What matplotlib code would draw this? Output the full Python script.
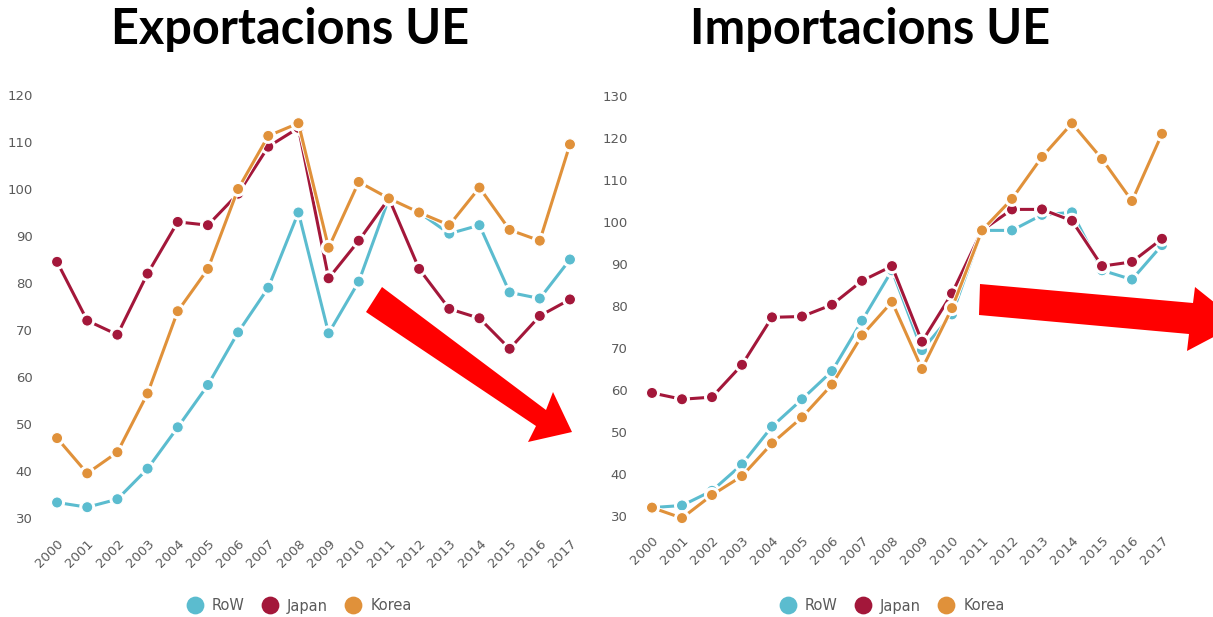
import matplotlib
matplotlib.use("Agg")
import matplotlib.pyplot as plt
import matplotlib.patheffects as pe
from matplotlib.patches import Polygon

# =========================
# Dades (índex) llegides del gràfic
# =========================
years = list(range(2000, 2018))

exp_row = [33.3, 32.3, 34.0, 40.5, 49.3, 58.3, 69.5, 79.0, 95.0, 69.3,
           80.3, 98.0, 95.0, 90.5, 92.3, 78.0, 76.7, 85.0]
exp_japan = [84.5, 72.0, 69.0, 82.0, 93.0, 92.3, 99.0, 109.0, 113.0, 81.0,
             89.0, 98.0, 83.0, 74.5, 72.5, 66.0, 73.0, 76.5]
exp_korea = [47.0, 39.5, 44.0, 56.5, 74.0, 83.0, 100.0, 111.3, 114.0, 87.5,
             101.5, 98.0, 95.0, 92.3, 100.3, 91.3, 89.0, 109.5]

imp_row = [32.0, 32.5, 36.0, 42.3, 51.3, 57.8, 64.5, 76.5, 88.5, 69.5,
           78.0, 98.0, 98.0, 101.7, 102.3, 88.5, 86.3, 94.5]
imp_japan = [59.3, 57.8, 58.3, 66.0, 77.3, 77.5, 80.3, 86.0, 89.5, 71.5,
             83.0, 98.0, 103.0, 103.0, 100.3, 89.5, 90.5, 96.0]
imp_korea = [32.0, 29.5, 35.0, 39.5, 47.3, 53.5, 61.3, 73.0, 81.0, 65.0,
             79.5, 98.0, 105.5, 115.5, 123.5, 115.0, 105.0, 121.0]

series_names = ["RoW", "Japan", "Korea"]
colors = ["#5bbccf", "#a3173a", "#e0913a"]

W, H = 1213, 617
fig = plt.figure(figsize=(W / 100, H / 100), dpi=100)


def px_axes(left, right, top, bottom):
    return fig.add_axes([left / W, 1 - bottom / H, (right - left) / W, (bottom - top) / H])


def draw_panel(ax, data, yticks, ylim, title, title_x, legend_x):
    handles = []
    for vals, name, c in zip(data, series_names, colors):
        ln, = ax.plot(years, vals, color=c, lw=2.2, marker="o", ms=8,
                      mec="white", mew=0.8, label=name,
                      path_effects=[pe.Stroke(linewidth=3.5, foreground="white"), pe.Normal()])
        handles.append(ln)
    ax.set_xlim(1999.6, 2017.2)
    ax.set_ylim(*ylim)
    ax.set_yticks(yticks)
    ax.set_xticks(years)
    ax.set_xticklabels([str(y) for y in years], rotation=45, ha="right",
                       rotation_mode="anchor")
    for s in ax.spines.values():
        s.set_visible(False)
    ax.tick_params(length=0, labelsize=9.5, labelcolor="#5a5a5a", pad=9)
    ax.tick_params(axis="x", pad=7)
    leg = fig.legend(handles, series_names, loc="center",
                     bbox_to_anchor=(legend_x / W, 1 - 606 / H), ncol=3,
                     frameon=False, handlelength=0.9, handletextpad=0.7,
                     columnspacing=1.3, fontsize=10.5, markerscale=1.6,
                     labelcolor="#5a5a5a", borderaxespad=0, borderpad=0)
    for h in leg.legend_handles:
        h.set_linestyle("none")
        h.set_path_effects([])
        h.set_markeredgewidth(0)
    fig.text(title_x / W, 1 - 30 / H, title, ha="center", va="center",
             fontsize=35, fontweight="bold", family="Lato", color="black")


ax1 = px_axes(45, 576, 85.6, 527.4)
draw_panel(ax1, [exp_row, exp_japan, exp_korea], range(30, 121, 10), (28, 122),
           "Exportacions UE", 290, 300)

ax2 = px_axes(640, 1168, 87.6, 524.4)
draw_panel(ax2, [imp_row, imp_japan, imp_korea], range(30, 131, 10), (28, 132),
           "Importacions UE", 870, 893)


# fletxes vermelles (en píxels de la figura)
def arrow(points):
    pts = [(x / W, 1 - y / H) for x, y in points]
    fig.patches.append(Polygon(pts, closed=True, transform=fig.transFigure,
                               facecolor="red", edgecolor="none", zorder=10))


arrow([(382, 287), (546, 410), (553, 392), (572, 432), (528, 442),
       (536, 426), (366, 312)])
arrow([(980, 284), (1193, 303), (1195, 287), (1240, 323), (1187, 351),
       (1189, 334), (979, 315)])

fig.savefig("out.png", dpi=100)
